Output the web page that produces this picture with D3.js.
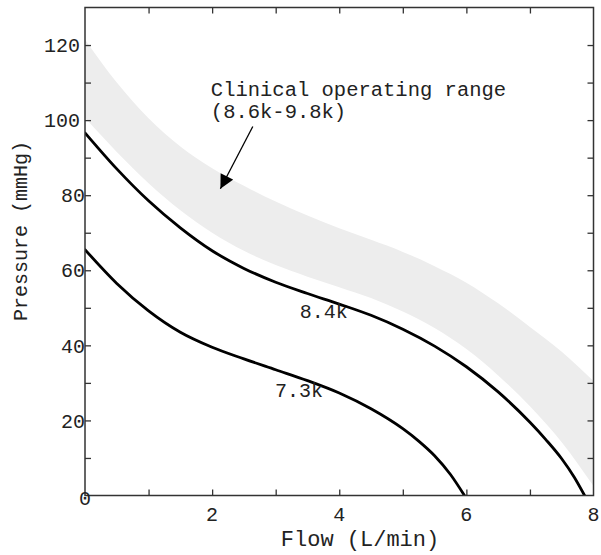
<!DOCTYPE html>
<html>
<head>
<meta charset="utf-8">
<script src="https://cdn.jsdelivr.net/npm/d3@7"></script>
<style>
  html, body { margin: 0; padding: 0; background: #fff; }
  svg text { font-family: "Courier New", "Liberation Mono", monospace; fill: #222; }
</style>
</head>
<body>
<svg id="chart" width="601" height="555"></svg>
<script>
// ---- data (flow L/min, pressure mmHg) ----
const curve84 = [[0,96.6],[0.5,87.0],[1.0,78.5],[1.5,71.3],[2.0,65.2],[2.5,60.5],[3.0,56.8],[3.5,53.8],
  [4.0,51.0],[4.5,48.0],[5.0,44.3],[5.5,39.8],[6.0,34.3],[6.5,27.6],[7.0,19.5],[7.25,14.9],[7.5,9.8],[7.7,4.8],[7.86,0]];
const curve73 = [[0,65.5],[0.5,56.5],[1.0,49.2],[1.5,43.5],[2.0,39.5],[2.5,36.4],[3.0,33.5],[3.5,30.6],
  [4.0,27.3],[4.5,23.1],[5.0,17.8],[5.25,14.5],[5.5,10.6],[5.75,5.6],[5.97,0]];
const bandUpper = [[0,121.5],[0.5,110.0],[1.0,100.5],[1.5,93.0],[2.0,87.2],[2.5,82.5],[3.0,78.3],[3.5,74.6],
  [4.0,71.2],[4.5,68.1],[5.0,64.9],[5.5,61.1],[6.0,56.7],[6.5,51.2],[7.0,44.9],[7.5,38.3],[8.0,30.5]];
const bandLower = [[0,100.6],[0.5,91.5],[1.0,83.2],[1.5,76.0],[2.0,70.0],[2.5,65.2],[3.0,61.4],[3.5,58.3],
  [4.0,55.5],[4.5,52.6],[5.0,49.0],[5.5,44.6],[6.0,39.0],[6.5,32.0],[7.0,23.8],[7.5,14.2],[8.0,2.5]];
const xTickLabels = [2, 4, 6, 8];
const xMinorTicks = [1, 2, 3, 4, 5, 6, 7];
const yTickLabels = [20, 40, 60, 80, 100, 120];
const yMinorTicks = [10, 20, 30, 40, 50, 60, 70, 80, 90, 100, 110, 120];
const curveLabels = [{text: "8.4k", x: 3.38, y: 47.3}, {text: "7.3k", x: 2.99, y: 26.3}];

// ---- layout ----
const svg = d3.select("#chart");
const L = 85, R = 593.5, T = 7.5, B = 495.5;
const x = d3.scaleLinear().domain([0, 8]).range([L, R]);
const y = d3.scaleLinear().domain([0, 130]).range([B, T]);

svg.append("defs").append("clipPath").attr("id", "clip")
  .append("rect").attr("x", L).attr("y", T).attr("width", R - L).attr("height", B - T);
svg.select("defs").append("marker")
  .attr("id", "arrow").attr("viewBox", "0 0 10 10").attr("refX", 10).attr("refY", 5)
  .attr("markerWidth", 16).attr("markerHeight", 14).attr("markerUnits", "userSpaceOnUse")
  .attr("orient", "auto")
  .append("path").attr("d", "M0,0 L10,5 L0,10 Z").attr("fill", "#000");

const line = d3.line().x(d => x(d[0])).y(d => y(d[1])).curve(d3.curveMonotoneX);

// band
const upperPath = line(bandUpper);
const lowerPath = line(bandLower.slice().reverse());
svg.append("path")
  .attr("clip-path", "url(#clip)")
  .attr("d", upperPath + "L" + lowerPath.slice(1) + "Z")
  .attr("fill", "#ededed").attr("stroke", "none");

// curves
[curve84, curve73].forEach(c => {
  svg.append("path").attr("clip-path", "url(#clip)")
    .attr("d", line(c)).attr("fill", "none").attr("stroke", "#000")
    .attr("stroke-width", 2.8).attr("stroke-linecap", "round");
});

// axes (ticks inward)
const axColor = "#333";
function styleAxis(g) {
  g.select(".domain").remove();
  g.selectAll(".tick line").attr("stroke", axColor).attr("stroke-width", 1.3);
}
svg.append("g").attr("transform", `translate(0,${B})`)
  .call(d3.axisBottom(x).tickValues(xMinorTicks).tickSizeInner(-6).tickSizeOuter(0).tickFormat(""))
  .call(styleAxis);
svg.append("g").attr("transform", `translate(0,${T})`)
  .call(d3.axisTop(x).tickValues(xMinorTicks).tickSizeInner(-6).tickSizeOuter(0).tickFormat(""))
  .call(styleAxis);
svg.append("g").attr("transform", `translate(${L},0)`)
  .call(d3.axisLeft(y).tickValues(yMinorTicks).tickSizeInner(-6).tickSizeOuter(0).tickFormat(""))
  .call(styleAxis);
svg.append("g").attr("transform", `translate(${R},0)`)
  .call(d3.axisRight(y).tickValues(yMinorTicks).tickSizeInner(-6).tickSizeOuter(0).tickFormat(""))
  .call(styleAxis);

// frame
svg.append("rect").attr("x", L).attr("y", T).attr("width", R - L).attr("height", B - T)
  .attr("fill", "none").attr("stroke", axColor).attr("stroke-width", 1.5);

// tick labels
svg.append("g").selectAll("text").data(xTickLabels).join("text")
  .attr("x", d => x(d)).attr("y", 521).attr("text-anchor", "middle")
  .attr("font-size", 20).text(d => d);
svg.append("g").selectAll("text").data(yTickLabels).join("text")
  .attr("x", d => String(d).length > 2 ? L - 5 : L)
  .attr("y", d => y(d)).attr("dy", "0.36em").attr("text-anchor", "end")
  .attr("font-size", 20).text(d => d);
svg.append("text").attr("x", x(0)).attr("y", y(0) + 2).attr("dy", "0.36em")
  .attr("text-anchor", "middle").attr("font-size", 20).text("0");

// axis titles
svg.append("text").attr("x", 360).attr("y", 546).attr("text-anchor", "middle")
  .attr("font-size", 22).text("Flow (L/min)");
svg.append("text").attr("transform", "translate(27,231) rotate(-90)").attr("text-anchor", "middle")
  .attr("font-size", 20).text("Pressure (mmHg)");

// curve labels
svg.append("g").selectAll("text").data(curveLabels).join("text")
  .attr("x", d => x(d.x)).attr("y", d => y(d.y)).attr("font-size", 20).text(d => d.text);

// annotation
svg.append("text").attr("x", x(1.98)).attr("y", y(106.3)).attr("font-size", 20.5)
  .text("Clinical operating range");
svg.append("text").attr("x", x(1.98)).attr("y", y(100.5)).attr("font-size", 20.5)
  .text("(8.6k-9.8k)");
svg.append("line")
  .attr("x1", x(2.64)).attr("y1", y(98.3)).attr("x2", x(2.13)).attr("y2", y(81.7))
  .attr("stroke", "#000").attr("stroke-width", 1.3).attr("marker-end", "url(#arrow)");
</script>
</body>
</html>
